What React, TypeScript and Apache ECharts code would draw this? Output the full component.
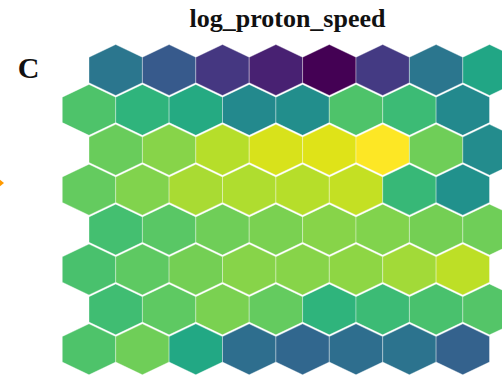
import React, { useEffect, useRef } from "react";
import * as echarts from "echarts";

// Hexagonal map of log_proton_speed (normalised 0..1), rows top to bottom.
// Even rows are shifted half a cell to the right.
const row0 = [0.39, 0.28, 0.16, 0.09, 0.0, 0.17, 0.39, 0.59];
const row1 = [0.72, 0.65, 0.61, 0.47, 0.49, 0.72, 0.68, 0.47];
const row2 = [0.77, 0.82, 0.89, 0.94, 0.95, 1.0, 0.78, 0.48];
const row3 = [0.76, 0.81, 0.87, 0.88, 0.89, 0.91, 0.67, 0.5];
const row4 = [0.7, 0.74, 0.78, 0.8, 0.82, 0.81, 0.79, 0.78];
const row5 = [0.71, 0.75, 0.79, 0.82, 0.82, 0.83, 0.86, 0.9];
const row6 = [0.69, 0.75, 0.8, 0.76, 0.65, 0.68, 0.71, 0.73];
const row7 = [0.72, 0.78, 0.6, 0.36, 0.33, 0.36, 0.38, 0.31];
const rows = [row0, row1, row2, row3, row4, row5, row6, row7];

const titleText = "log_proton_speed";
const panelLabel = "C";

const viridis = [
  "#440154", "#471365", "#482475", "#463480", "#414487", "#3b528b",
  "#355f8d", "#2f6c8e", "#2a788e", "#25848e", "#21918c", "#1e9c89",
  "#22a884", "#2fb47c", "#44bf70", "#5ec962", "#7ad151", "#9bd93c",
  "#bddf26", "#dfe318", "#fde725",
];

export default function App() {
  const ref = useRef<HTMLDivElement>(null);
  useEffect(() => {
    if (!ref.current) return;
    const chart = echarts.init(ref.current, undefined, { renderer: "svg" });
    const data: number[][] = [];
    rows.forEach((r, ri) => {
      r.forEach((v, ci) => {
        data.push([ci + (ri % 2 === 0 ? 0.5 : 0), ri, v]);
      });
    });
    chart.setOption({
      animation: false,
      backgroundColor: "#ffffff",
      grid: { left: 35.6, width: 453.9, top: 30.1, height: 319.2 },
      xAxis: { type: "value", min: -1, max: 7.5, show: false },
      yAxis: { type: "value", min: -1, max: 7, inverse: true, show: false },
      visualMap: {
        show: false,
        min: 0,
        max: 1,
        dimension: 2,
        inRange: { color: viridis },
      },
      series: [
        {
          type: "custom",
          clip: false,
          encode: { x: 0, y: 1 },
          data,
          renderItem: (params: any, api: any) => {
            const c = api.coord([api.value(0), api.value(1)]);
            const s = api.size([1, 1]);
            const w = s[0];
            const h = s[1] * 1.25 + 1;
            const pts = [
              [c[0], c[1] - h / 2],
              [c[0] + w / 2, c[1] - h / 4],
              [c[0] + w / 2, c[1] + h / 4],
              [c[0], c[1] + h / 2],
              [c[0] - w / 2, c[1] + h / 4],
              [c[0] - w / 2, c[1] - h / 4],
            ];
            return {
              type: "polygon",
              shape: { points: pts },
              style: {
                fill: api.visual("color"),
                stroke: "rgba(255,255,255,0.35)",
                lineWidth: 1,
              },
            };
          },
        },
      ],
      graphic: [
        {
          type: "text",
          x: 287.5,
          y: 18.5,
          style: {
            text: titleText,
            font: "bold 26px 'Liberation Serif', 'DejaVu Serif', serif",
            fill: "#111111",
            align: "center",
            verticalAlign: "middle",
          },
        },
        {
          type: "text",
          x: 28.5,
          y: 67,
          style: {
            text: panelLabel,
            font: "bold 30px 'Liberation Serif', 'DejaVu Serif', serif",
            fill: "#111111",
            align: "center",
            verticalAlign: "middle",
          },
        },
        {
          type: "polygon",
          shape: { points: [[-6, 175], [4, 183], [-6, 191]] },
          style: { fill: "#ff9a00" },
        },
      ],
    });
    return () => chart.dispose();
  }, []);
  return (
    <div
      ref={ref}
      style={{ position: "fixed", left: 0, top: 0, width: 502, height: 375 }}
    />
  );
}
